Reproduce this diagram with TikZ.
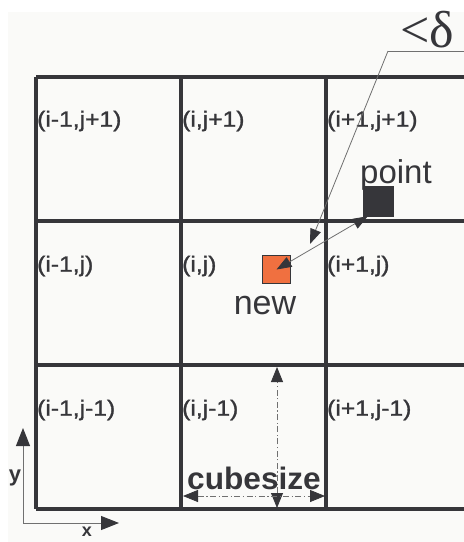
\documentclass[tikz,border=0pt]{standalone}
\usepackage{fontspec}
\setmainfont{Liberation Sans}
\newfontfamily\serifdelta{Liberation Serif}
\usetikzlibrary{arrows.meta}
\definecolor{gridc}{HTML}{36363A}
\definecolor{bgc}{HTML}{FAFAF8}
\definecolor{newc}{HTML}{F07040}
\definecolor{thinc}{HTML}{707070}
\tikzset{
  gridline/.style={draw=gridc, line width=3.4pt},
  cell/.style={anchor=west, inner sep=0pt, text=gridc, font=\fontsize{22}{22}\selectfont\addfontfeature{FakeStretch=1.12,FakeBold=1.3}},
  dim/.style={{Triangle[length=15pt,width=12pt,color=gridc]}-{Triangle[length=15pt,width=12pt,color=gridc]}, draw=thinc, line width=0.8pt, dash pattern=on 6pt off 2.5pt on 1.2pt off 2.5pt},
  axis/.style={-{Triangle[length=18pt,width=14pt,color=gridc]}, draw=thinc, line width=1pt},
}
\begin{document}
\begin{tikzpicture}[x=1pt,y=-1pt]
\useasboundingbox (0,0) rectangle (464,542);
\fill[white] (0,0) rectangle (464,542);
\fill[bgc] (8,12) rectangle (464,542);
% grid
\foreach \yy in {77,221,365,509} \draw[gridline] (36,\yy) -- (464,\yy);
\foreach \xx in {36,181,326} \draw[gridline] (\xx,77) -- (\xx,509);
% cell labels
\node[cell] (c11) at (37,121) {(i-1,j+1)};
\node[cell] (c21) at (182,121) {(i,j+1)};
\node[cell] (c31) at (327,121) {(i+1,j+1)};
\node[cell] (c12) at (37,266) {(i-1,j)};
\node[cell] (c22) at (182,266) {(i,j)};
\node[cell] (c32) at (327,266) {(i+1,j)};
\node[cell] (c13) at (37,410) {(i-1,j-1)};
\node[cell] (c23) at (182,410) {(i,j-1)};
\node[cell] (c33) at (327,410) {(i+1,j-1)};
% squares
\node[draw=gridc, fill=gridc, minimum size=30pt, inner sep=0pt] (pt) at (378,201) {};
\node[draw=gridc, fill=newc, line width=0.6pt, minimum size=28pt, inner sep=0pt] (nw) at (276.5,269.5) {};
\node[text=gridc, font=\fontsize{33}{33}\selectfont, anchor=base] (ptl) at (396,183) {point};
\node[text=gridc, font=\fontsize{34}{34}\selectfont, anchor=base] (nwl) at (265,314) {new};
% distance arrow
\draw[{Triangle[length=15pt,width=11pt,color=gridc]}-{Triangle[length=15pt,width=11pt,color=gridc]}, draw=thinc, line width=0.8pt] (nw.center) -- ([xshift=5pt]pt.south west);
% delta label
\node[text=gridc, font=\serifdelta\fontsize{52}{52}\selectfont, anchor=base, inner sep=0pt] (dl) at (427,47) {<δ};
\coordinate (dk) at (388,51);
\coordinate (dt) at (310,244);
\draw[draw=thinc, line width=0.8pt] (dk) -- (464,51);
\draw[-{Triangle[length=15pt,width=11pt,color=gridc]}, draw=thinc, line width=0.8pt] (dk) -- (dt);
% cubesize
\coordinate (vt) at (277,367);
\coordinate (vb) at (277,508);
\coordinate (hl) at (183,496);
\coordinate (hr) at (325,496);
\draw[dim] (vb) -- (vt);
\draw[dim] (hl) -- (hr);
\node[text=gridc, font=\bfseries\fontsize{31}{31}\selectfont\addfontfeature{FakeStretch=1.02}, anchor=base, inner sep=0pt] (cs) at (254,489) {cubesize};
% axes
\coordinate (o) at (23,523);
\coordinate (ya) at (23,428);
\coordinate (xa) at (119,523);
\draw[axis] (o) -- (ya);
\draw[axis] (o) -- (xa);
\node[text=gridc, font=\bfseries\fontsize{22}{22}\selectfont, anchor=base, inner sep=0pt] (yl) at (15,481) {y};
\node[text=gridc, font=\bfseries\fontsize{18}{18}\selectfont, anchor=base, inner sep=0pt] (xl) at (87,536) {x};
\end{tikzpicture}
\end{document}
